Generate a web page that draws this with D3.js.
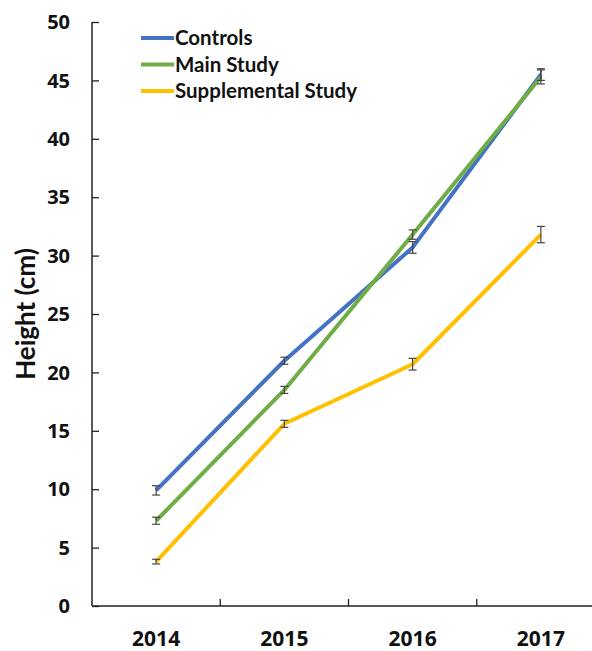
<!DOCTYPE html>
<html>
<head>
<meta charset="utf-8">
<script src="https://cdn.jsdelivr.net/npm/d3@7"></script>
<style>
  body { margin: 0; background: #fff; }
  svg text { font-family: Lato, "Open Sans", sans-serif; font-weight: bold; fill: #111; }
  svg text.num { font-family: "Open Sans", Lato, sans-serif; }
</style>
</head>
<body>
<div id="main"></div>
<script>
const years = ["2014", "2015", "2016", "2017"];
const seriesNames = ["Controls", "Main Study", "Supplemental Study"];
const controls = [9.9, 21.0, 30.7, 45.5];
const controlsErr = [0.4, 0.3, 0.5, 0.5];
const mainStudy = [7.3, 18.5, 31.8, 45.3];
const mainStudyErr = [0.3, 0.3, 0.4, 0.6];
const supplemental = [3.8, 15.6, 20.7, 31.8];
const supplementalErr = [0.2, 0.3, 0.5, 0.7];
const yTicks = [0, 5, 10, 15, 20, 25, 30, 35, 40, 45, 50];
const colors = ["#4472c4", "#70ad47", "#ffc000"];

const width = 592, height = 651;
const svg = d3.select("#main").append("svg")
  .attr("width", width)
  .attr("height", height);

// plot box
const plotLeft = 92, plotRight = 605, plotTop = 22, plotBottom = 606;

const x = d3.scaleBand().domain(years).range([plotLeft, plotRight]);
const y = d3.scaleLinear().domain([0, 50]).range([plotBottom, plotTop]);

const series = [
  { name: seriesNames[0], values: controls, err: controlsErr, color: colors[0] },
  { name: seriesNames[1], values: mainStudy, err: mainStudyErr, color: colors[1] },
  { name: seriesNames[2], values: supplemental, err: supplementalErr, color: colors[2] }
];

// y axis
const yAxis = svg.append("g")
  .attr("transform", `translate(${plotLeft},0)`)
  .call(d3.axisRight(y).tickValues(yTicks).tickSize(7).tickFormat(""));
yAxis.select(".domain").remove();
yAxis.selectAll("line").attr("stroke", "#222").attr("stroke-width", 1.3);
svg.append("line")
  .attr("x1", plotLeft).attr("x2", plotLeft)
  .attr("y1", plotTop).attr("y2", plotBottom)
  .attr("stroke", "#222").attr("stroke-width", 1.5);

svg.append("g").selectAll("text")
  .data(yTicks)
  .join("text")
  .attr("class", "num")
  .attr("x", 70)
  .attr("y", d => y(d))
  .attr("dy", "0.36em")
  .attr("text-anchor", "end")
  .attr("font-size", 20)
  .text(d => d);

// x axis, ticks between categories
const xTickPos = years.slice(1).map(d => x(d));
svg.append("g").selectAll("line")
  .data(xTickPos)
  .join("line")
  .attr("x1", d => d).attr("x2", d => d)
  .attr("y1", plotBottom).attr("y2", plotBottom - 7)
  .attr("stroke", "#222").attr("stroke-width", 1.3);
svg.append("line")
  .attr("x1", plotLeft).attr("x2", plotRight)
  .attr("y1", plotBottom).attr("y2", plotBottom)
  .attr("stroke", "#222").attr("stroke-width", 1.5);

svg.append("g").selectAll("text")
  .data(years)
  .join("text")
  .attr("class", "num")
  .attr("x", d => x(d) + x.bandwidth() / 2)
  .attr("y", 638)
  .attr("dy", "0.36em")
  .attr("text-anchor", "middle")
  .attr("font-size", 21)
  .text(d => d);

// y label
svg.append("text")
  .attr("transform", `translate(26,${(plotTop + plotBottom) / 2}) rotate(-90)`)
  .attr("text-anchor", "middle")
  .attr("dy", "0.36em")
  .attr("font-size", 26)
  .text("Height (cm)");

const cx = (d, i) => x(years[i]) + x.bandwidth() / 2;
const line = d3.line().x(cx).y(d => y(d));

// lines
svg.append("g").selectAll("path")
  .data(series)
  .join("path")
  .attr("d", d => line(d.values))
  .attr("fill", "none")
  .attr("stroke", d => d.color)
  .attr("stroke-width", 4)
  .attr("stroke-linejoin", "round");

// error bars
series.forEach(s => {
  const g = svg.append("g").attr("stroke", "#444").attr("stroke-width", 1.2);
  s.values.forEach((v, i) => {
    const px = cx(v, i);
    const y1 = y(v + s.err[i]), y2 = y(v - s.err[i]);
    g.append("line").attr("x1", px).attr("x2", px).attr("y1", y1).attr("y2", y2);
    g.append("line").attr("x1", px - 4).attr("x2", px + 4).attr("y1", y1).attr("y2", y1);
    g.append("line").attr("x1", px - 4).attr("x2", px + 4).attr("y1", y2).attr("y2", y2);
  });
});

// legend
const legend = svg.append("g").selectAll("g")
  .data(series)
  .join("g")
  .attr("transform", (d, i) => `translate(141,${38 + i * 26.5})`);
legend.append("line")
  .attr("x1", 0).attr("x2", 33)
  .attr("stroke", d => d.color)
  .attr("stroke-width", 4);
legend.append("text")
  .attr("x", 34)
  .attr("dy", "0.36em")
  .attr("font-size", 20.5)
  .text(d => d.name);
</script>
</body>
</html>
